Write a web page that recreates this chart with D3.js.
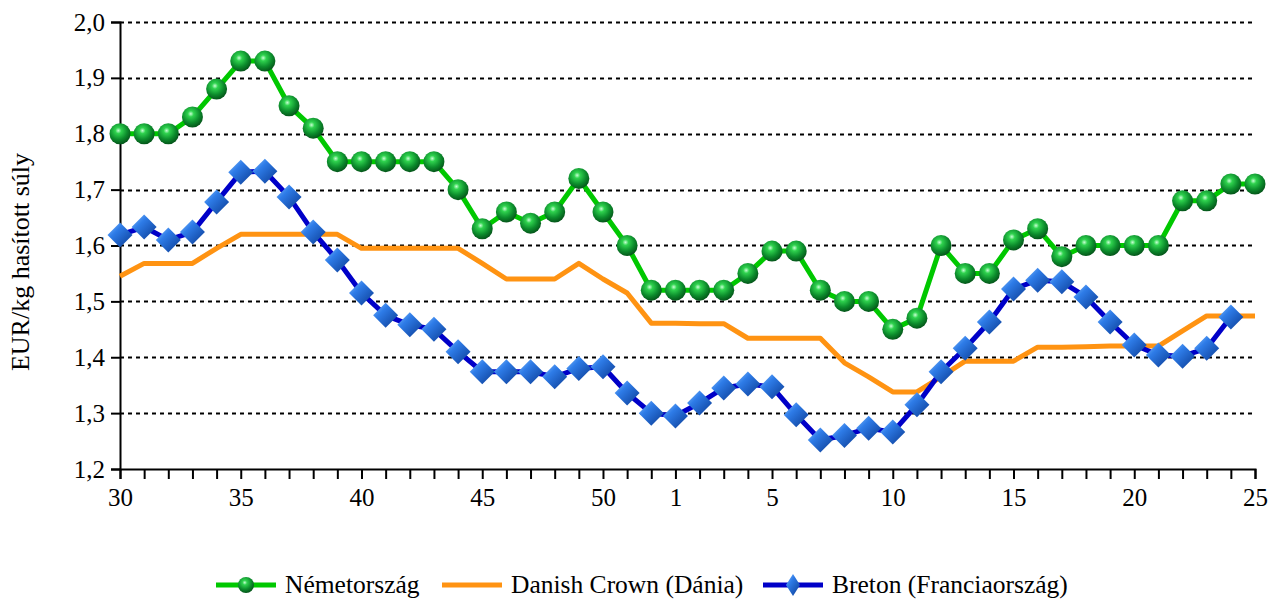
<!DOCTYPE html>
<meta charset="utf-8">
<title>Sertés ár</title>
<head>
  <script src="https://d3js.org/d3.v7.min.js"></script>
  <style>
    body { margin: 0; background: #fff; }
    text { font-family: "Liberation Serif", "Times New Roman", serif; fill: #000; }
  </style>
</head>
<body>
  <div id="chart"></div>
  <script>
    var width = 1279, height = 602
    var margin = {top: 22, right: 24, bottom: 133, left: 120}

    // hetek (2 év)
    var weeks = [30, 31, 32, 33, 34, 35, 36, 37, 38, 39, 40, 41, 42, 43, 44, 45, 46, 47, 48, 49, 50, 51, 52,
      1, 2, 3, 4, 5, 6, 7, 8, 9, 10, 11, 12, 13, 14, 15, 16, 17, 18, 19, 20, 21, 22, 23, 24, 25]
    var labelIdx = [0, 5, 10, 15, 20, 23, 27, 32, 37, 42, 47]
    var yTicks = [1.2, 1.3, 1.4, 1.5, 1.6, 1.7, 1.8, 1.9, 2.0]

    var nemet = [1.80, 1.80, 1.80, 1.83, 1.88, 1.93, 1.93, 1.85, 1.81, 1.75, 1.75, 1.75, 1.75, 1.75, 1.70, 1.63,
      1.66, 1.64, 1.66, 1.72, 1.66, 1.60, 1.52, 1.52, 1.52, 1.52, 1.55, 1.59, 1.59, 1.52, 1.50, 1.50,
      1.45, 1.47, 1.60, 1.55, 1.55, 1.61, 1.63, 1.58, 1.60, 1.60, 1.60, 1.60, 1.68, 1.68, 1.71, 1.71]
    var danish = [1.545, 1.568, 1.568, 1.568, 1.595, 1.62, 1.62, 1.62, 1.62, 1.62, 1.595, 1.595, 1.595, 1.595, 1.595, 1.568,
      1.54, 1.54, 1.54, 1.568, 1.54, 1.515, 1.461, 1.461, 1.46, 1.46, 1.434, 1.434, 1.434, 1.434, 1.39, 1.365,
      1.338, 1.338, 1.365, 1.393, 1.393, 1.393, 1.418, 1.418, 1.419, 1.42, 1.42, 1.42, 1.447, 1.474, 1.474, 1.474]
    var breton = [1.619, 1.633, 1.61, 1.624, 1.678, 1.731, 1.733, 1.687, 1.624, 1.574, 1.515, 1.475, 1.458, 1.45, 1.41, 1.374,
      1.374, 1.374, 1.365, 1.38, 1.383, 1.336, 1.30, 1.295, 1.318, 1.345, 1.352, 1.347, 1.297, 1.252, 1.26, 1.273,
      1.266, 1.315, 1.374, 1.416, 1.463, 1.522, 1.538, 1.535, 1.508, 1.463, 1.422, 1.404, 1.402, 1.416, 1.472, null]

    var series = [
      {name: "Németország", values: nemet, color: "#00c800", marker: "circle"},
      {name: "Danish Crown (Dánia)", values: danish, color: "#ff9312", marker: null},
      {name: "Breton (Franciaország)", values: breton, color: "#0000c8", marker: "diamond"}
    ]

    var svg = d3.select("#chart").append("svg")
      .attr("width", width)
      .attr("height", height)

    var defs = svg.append("defs")
    var rg = defs.append("radialGradient").attr("id", "gball")
      .attr("cx", "42%").attr("cy", "35%").attr("r", "65%")
    rg.append("stop").attr("offset", "0%").attr("stop-color", "#c8ffd4")
    rg.append("stop").attr("offset", "22%").attr("stop-color", "#2fd24e")
    rg.append("stop").attr("offset", "65%").attr("stop-color", "#0c8c2c")
    rg.append("stop").attr("offset", "100%").attr("stop-color", "#05561a")
    var lg = defs.append("linearGradient").attr("id", "gdia")
      .attr("x1", "0%").attr("y1", "0%").attr("x2", "100%").attr("y2", "100%")
    lg.append("stop").attr("offset", "0%").attr("stop-color", "#8cc4ff")
    lg.append("stop").attr("offset", "35%").attr("stop-color", "#2e7ce8")
    lg.append("stop").attr("offset", "100%").attr("stop-color", "#0a3a92")

    var x = d3.scaleLinear()
      .domain([0, weeks.length - 1])
      .range([margin.left, width - margin.right])
    var y = d3.scaleLinear()
      .domain([1.2, 2.0])
      .range([height - margin.bottom, margin.top])

    // gridlines
    svg.append("g").selectAll("line")
      .data(yTicks.slice(1))
      .enter().append("line")
      .attr("x1", x(0)).attr("x2", x(weeks.length - 1))
      .attr("y1", function(d) { return Math.round(y(d)) + 0.5 })
      .attr("y2", function(d) { return Math.round(y(d)) + 0.5 })
      .attr("stroke", "#000")
      .attr("stroke-width", 2)
      .attr("stroke-dasharray", "4,4")

    var fmt = function(d) { return d3.format(".1f")(d).replace(".", ",") }

    // y axis
    var yAxis = svg.append("g")
      .attr("transform", "translate(" + margin.left + ",0)")
      .call(d3.axisLeft(y).tickValues(yTicks).tickFormat(fmt).tickSize(9).tickPadding(6))
    yAxis.select(".domain").attr("stroke-width", 2)
    yAxis.selectAll(".tick line").attr("stroke-width", 2)
    yAxis.selectAll("text").style("font-size", "25px").attr("fill", "#000")

    // x axis
    var xAxis = svg.append("g")
      .attr("transform", "translate(0," + y(1.2) + ")")
      .call(d3.axisBottom(x)
        .tickValues(d3.range(weeks.length))
        .tickSize(10).tickPadding(9)
        .tickFormat(function(i) { return labelIdx.indexOf(i) >= 0 ? weeks[i] : "" }))
    xAxis.select(".domain").attr("stroke-width", 2)
    xAxis.selectAll(".tick line").attr("stroke-width", 2)
    xAxis.selectAll("text").style("font-size", "25px").attr("fill", "#000")

    // lines
    series.forEach(function(s) {
      var line = d3.line()
        .defined(function(d) { return d != null })
        .x(function(d, i) { return x(i) })
        .y(function(d) { return y(d) })
      svg.append("path")
        .datum(s.values)
        .attr("fill", "none")
        .attr("stroke", s.color)
        .attr("stroke-width", 5)
        .attr("stroke-linejoin", "round")
        .attr("d", line)
    })

    function drawMarker(g, type, cx, cy, r) {
      if (type == "circle") {
        g.append("circle").attr("cx", cx).attr("cy", cy).attr("r", r)
          .attr("fill", "url(#gball)")
      } else if (type == "diamond") {
        g.append("path")
          .attr("d", "M" + cx + "," + (cy - r) + "L" + (cx + r) + "," + cy + "L" + cx + "," + (cy + r) + "L" + (cx - r) + "," + cy + "Z")
          .attr("fill", "url(#gdia)")
      }
    }

    series.forEach(function(s) {
      if (!s.marker) return
      var g = svg.append("g")
      s.values.forEach(function(v, i) {
        if (v == null) return
        drawMarker(g, s.marker, x(i), y(v), s.marker == "circle" ? 10.5 : 12.5)
      })
    })

    // y title
    svg.append("text")
      .attr("transform", "translate(29,262) rotate(-90)")
      .attr("text-anchor", "middle")
      .style("font-size", "26px")
      .text("EUR/kg hasított súly")

    // legend
    var legX = [216, 442, 763]
    var legY = 585
    var legend = svg.append("g")
    series.forEach(function(s, i) {
      var g = legend.append("g")
      g.append("line")
        .attr("x1", legX[i]).attr("x2", legX[i] + 60)
        .attr("y1", legY).attr("y2", legY)
        .attr("stroke", s.color).attr("stroke-width", 5)
      if (s.marker == "circle") {
        g.append("circle").attr("cx", legX[i] + 30).attr("cy", legY).attr("r", 8).attr("fill", "url(#gball)")
      } else if (s.marker == "diamond") {
        g.append("path")
          .attr("d", "M" + (legX[i] + 30) + "," + (legY - 11) + "L" + (legX[i] + 37) + "," + legY + "L" + (legX[i] + 30) + "," + (legY + 11) + "L" + (legX[i] + 23) + "," + legY + "Z")
          .attr("fill", "url(#gdia)")
      }
      g.append("text")
        .attr("x", legX[i] + 69).attr("y", legY + 8)
        .style("font-size", "25.5px")
        .text(s.name)
    })
  </script>
</body>
